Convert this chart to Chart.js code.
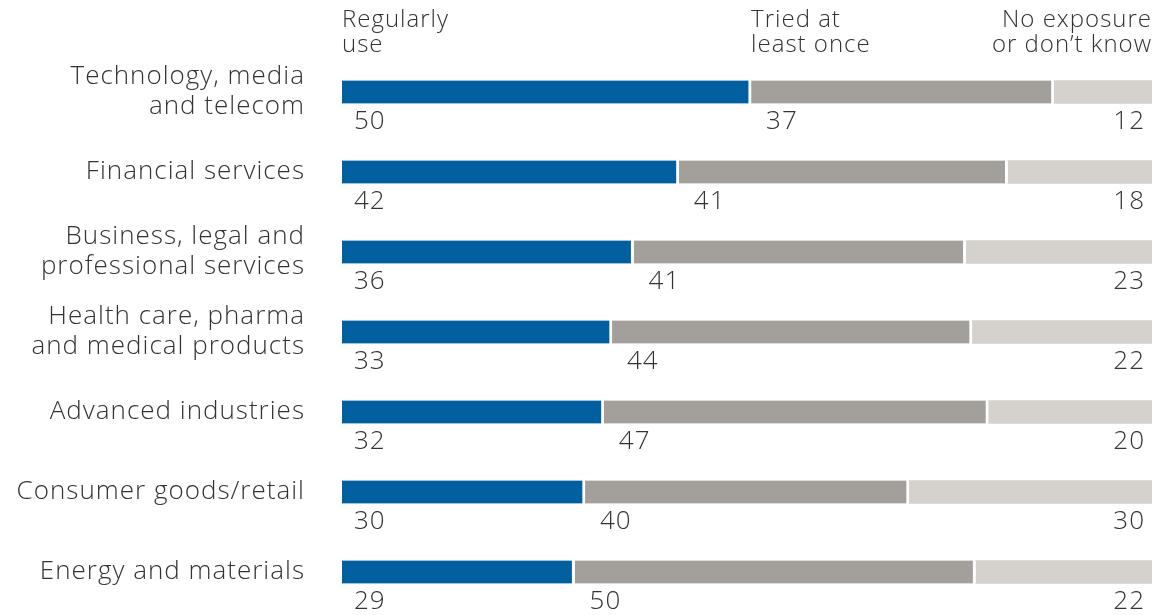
<!DOCTYPE html>
<html>
<head>
<meta charset="utf-8">
<script src="https://cdn.jsdelivr.net/npm/chart.js@4"></script>
<style>
  html, body { margin: 0; padding: 0; background: #fff; }
</style>
</head>
<body>
<canvas id="usageChart" width="1158" height="615"></canvas>
<script>
const categories = [
	['Technology, media', 'and telecom'],
	'Financial services',
	['Business, legal and', 'professional services'],
	['Health care, pharma', 'and medical products'],
	'Advanced industries',
	'Consumer goods/retail',
	'Energy and materials'
]
const regularlyUse = [50, 42, 36, 33, 32, 30, 29]
const triedOnce = [37, 41, 41, 44, 47, 40, 50]
const noExposure = [12, 18, 23, 22, 20, 30, 22]
const seriesNames = [['Regularly', 'use'], ['Tried at', 'least once'], ['No exposure', 'or don\u2019t know']]
const colors = ['#005f9e', '#a39f9b', '#d5d1cc']

const FONT = '"Open Sans", "Noto Sans", sans-serif'
const TEXT = '#333333'

// every row is drawn as a full 100% bar
const rowTotal = regularlyUse.map((v, i) => v + triedOnce[i] + noExposure[i])
const share = function (arr) {
	return arr.map((v, i) => v / rowTotal[i] * 100)
}
const raw = [regularlyUse, triedOnce, noExposure]

// the original type is a little wider than Open Sans
const spacingPlugin = {
	id: 'letterSpacing',
	beforeDraw(chart) {
		chart.ctx.letterSpacing = '1px'
	},
	afterDraw(chart) {
		chart.ctx.letterSpacing = '0px'
	}
}

const labelPlugin = {
	id: 'segmentLabels',
	afterDatasetsDraw(chart) {
		const ctx = chart.ctx
		ctx.save()
		ctx.fillStyle = TEXT
		ctx.font = '300 26px ' + FONT
		ctx.textBaseline = 'middle'
		chart.data.datasets.forEach((ds, d) => {
			const meta = chart.getDatasetMeta(d)
			meta.data.forEach((bar, i) => {
				const left = Math.min(bar.x, bar.base)
				const right = Math.max(bar.x, bar.base)
				const y = bar.y + 30
				if (d === 2) {
					ctx.textAlign = 'right'
					ctx.fillText(raw[d][i], right - 7, y)
				} else {
					ctx.textAlign = 'left'
					ctx.fillText(raw[d][i], left + (d === 0 ? 12 : 15), y)
				}
			})
		})
		// column headers above the first row
		ctx.font = '300 24px ' + FONT
		chart.data.datasets.forEach((ds, d) => {
			const bar = chart.getDatasetMeta(d).data[0]
			const left = Math.min(bar.x, bar.base)
			const right = Math.max(bar.x, bar.base)
			seriesNames[d].forEach((line, k) => {
				ctx.textAlign = d === 2 ? 'right' : 'left'
				ctx.fillText(line, d === 2 ? right : left, 20 + k * 25)
			})
		})
		ctx.restore()
	}
}

const data = {
	labels: categories,
	datasets: [0, 1, 2].map(d => ({
		label: seriesNames[d].join(' '),
		data: share(raw[d]),
		backgroundColor: colors[d],
		borderColor: '#ffffff',
		borderWidth: d < 2 ? { right: 3 } : 0,
		borderSkipped: false,
		barThickness: 23
	}))
}

const config = {
	type: 'bar',
	data: data,
	options: {
		indexAxis: 'y',
		responsive: false,
		animation: false,
		layout: { padding: { top: 52, bottom: 3, right: 6, left: 0 } },
		plugins: {
			legend: { display: false },
			tooltip: { enabled: false }
		},
		scales: {
			x: {
				stacked: true,
				min: 0,
				max: 100,
				display: false
			},
			y: {
				stacked: true,
				grid: { display: false },
				border: { display: false },
				ticks: {
					color: TEXT,
					padding: 29,
					font: { family: FONT, size: 26, weight: 300, lineHeight: 1.15 }
				},
				afterFit(scale) {
					scale.width = 342
					scale.paddingTop = 0
					scale.paddingBottom = 0
				}
			}
		}
	},
	plugins: [spacingPlugin, labelPlugin]
}

const usageChart = new Chart(document.getElementById('usageChart'), config)
</script>
</body>
</html>
